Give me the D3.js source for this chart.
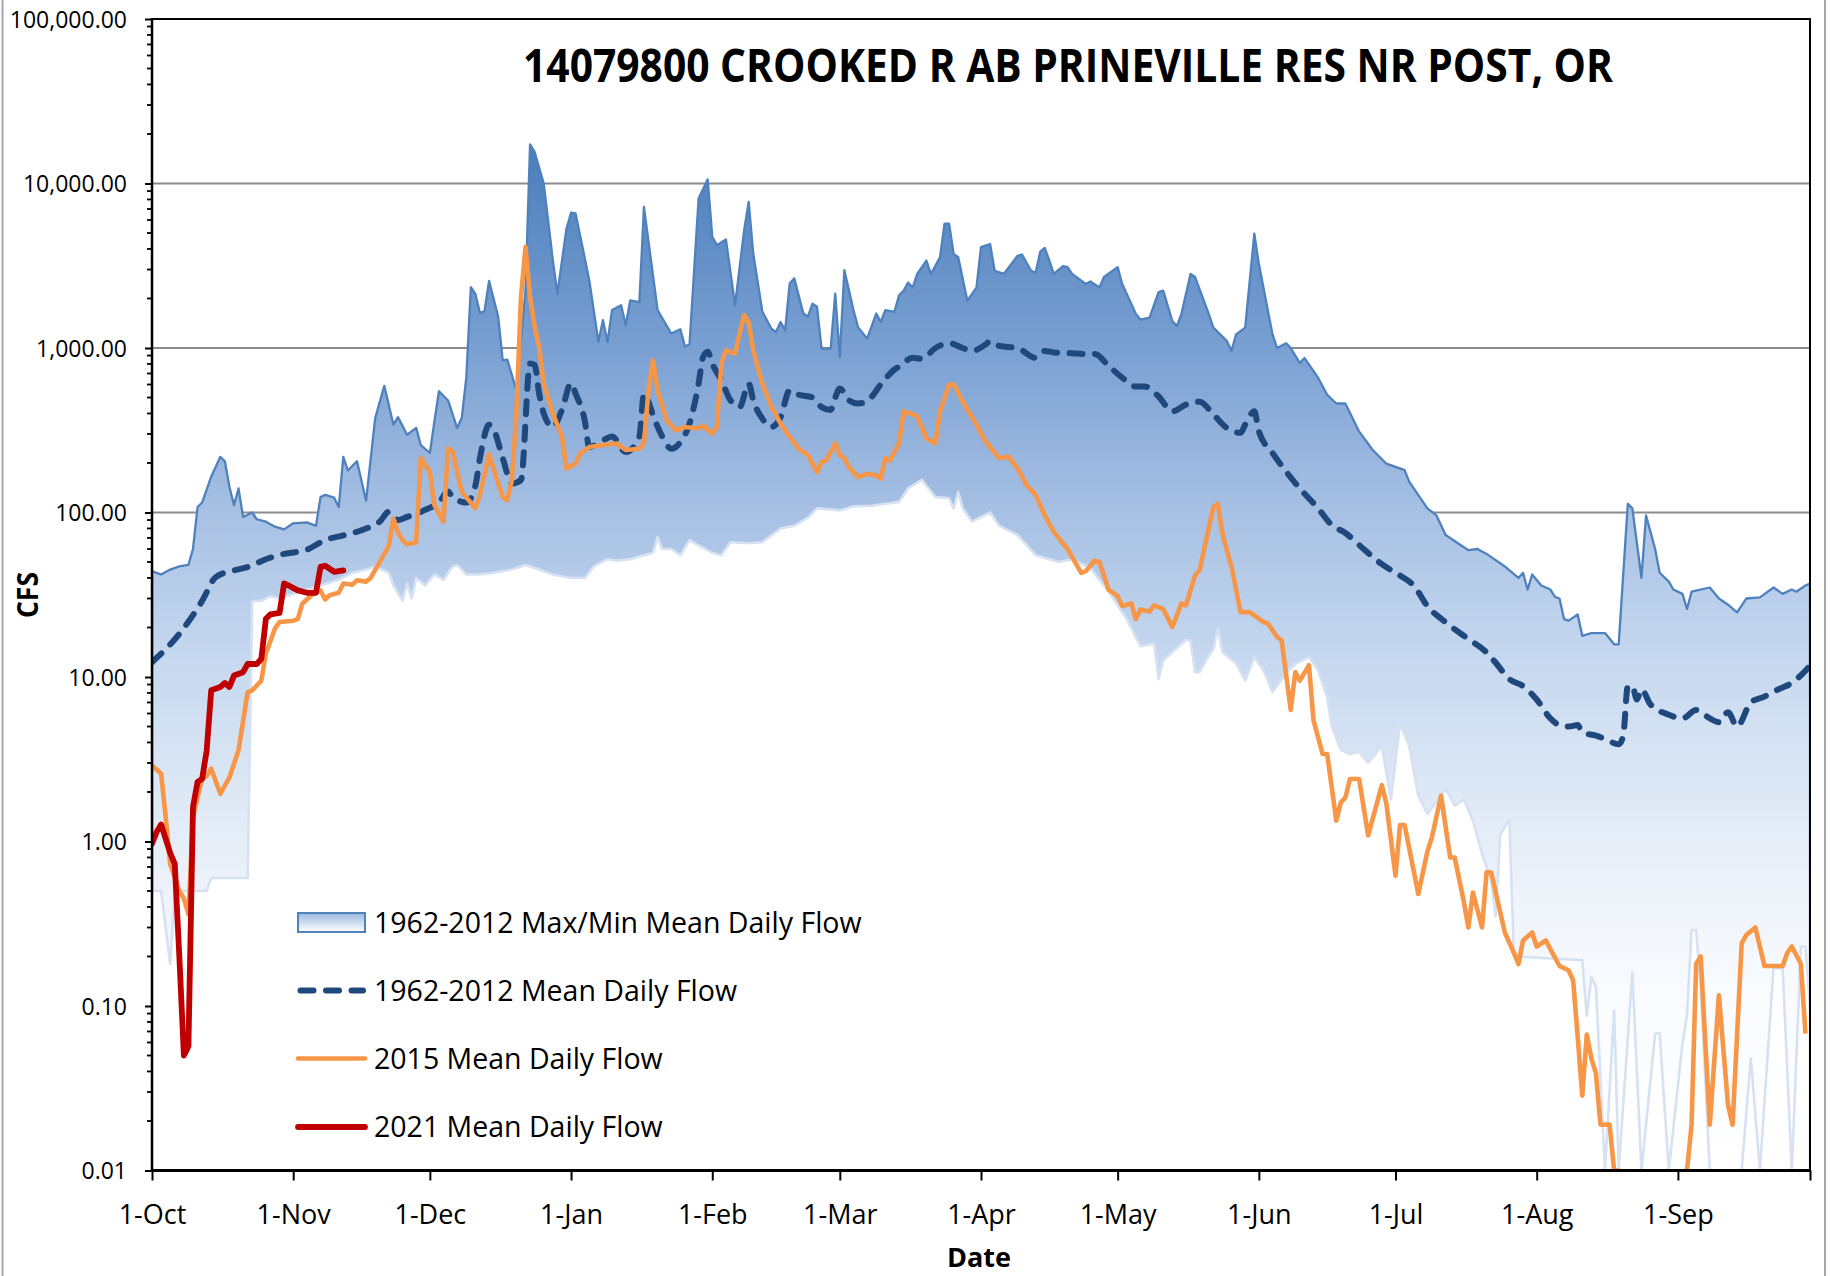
<!DOCTYPE html>
<html><head><meta charset="utf-8">
<script src="https://cdn.jsdelivr.net/npm/d3@7"></script>
<style>
html,body{margin:0;padding:0;background:#fff;}
svg{display:block;}
text{font-family:"Open Sans",sans-serif;fill:#000;}
</style></head><body>
<svg id="chart" width="1831" height="1276"></svg>
<script>
// ---------------- DATA ----------------
const chartTitle = "14079800 CROOKED R AB PRINEVILLE RES NR POST, OR";
const yAxisTitle = "CFS";
const xAxisTitle = "Date";
const yTickValues = [0.01, 0.1, 1, 10, 100, 1000, 10000, 100000];
const gridValues = [100, 1000, 10000];
const legendLabels = ["1962-2012 Max/Min Mean Daily Flow", "1962-2012 Mean Daily Flow", "2015 Mean Daily Flow", "2021 Mean Daily Flow"];
const waterYearStart = "2014-10-01";
const waterYearEnd = "2015-09-30";

// [day offset from 1-Oct, cfs]
const maxFlow = [[0,44],[1,43],[2,42],[4,45],[6,47],[8,48],[9,60],[10,108],[11,115],[13,165],[15,218],[16,205],[17,143],[18,111],[19,140],[20,94],[22,100],[23,91],[25,88],[27,82],[29,79],[31,86],[34,87],[36,83],[37,124],[38,128],[40,123],[41,108],[42,218],[43,180],[45,205],[47,118],[49,375],[51,589],[53,342],[54,380],[56,297],[58,327],[59,257],[61,230],[62,358],[63,546],[65,480],[67,326],[68,375],[69,659],[70,2340],[71,2130],[72,1630],[73,1680],[74,2560],[76,1550],[77,840],[78,850],[80,553],[81,1100],[82,2245],[83,17300],[84,15600],[86,10000],[88,3420],[89,2140],[91,5330],[92,6640],[93,6580],[96,2580],[98,1090],[99,1475],[100,1090],[101,1700],[103,1820],[104,1370],[105,1950],[107,1900],[108,7210],[111,1700],[114,1225],[116,1300],[117,1023],[118,1050],[120,8110],[122,10600],[123,4750],[124,4220],[126,4570],[128,1820],[130,5200],[131,7730],[132,3750],[134,1660],[136,1310],[137,1250],[138,1440],[139,1280],[140,2470],[141,2650],[143,1620],[144,1550],[145,1860],[146,1780],[147,990],[149,990],[150,2140],[151,883],[152,2970],[154,1700],[155,1340],[157,1140],[159,1620],[160,1440],[161,1700],[163,1660],[164,2090],[165,2230],[166,2500],[167,2330],[168,2820],[170,3400],[171,2820],[173,3560],[174,5700],[175,5700],[176,3730],[177,3560],[179,1940],[181,2330],[182,4100],[184,4290],[185,2950],[187,2820],[190,3630],[191,3700],[193,2950],[194,2870],[195,3850],[196,4060],[197,3400],[198,2820],[200,3150],[201,3100],[202,2820],[205,2450],[206,2540],[208,2330],[209,2700],[212,3100],[213,2450],[216,1610],[217,1490],[219,1530],[221,2190],[222,2230],[224,1460],[225,1360],[226,1610],[228,2820],[229,2700],[232,1610],[233,1330],[236,1100],[237,960],[238,1210],[240,1330],[242,4950],[243,3250],[245,1680],[246,1210],[247,1000],[249,1070],[250,1000],[252,810],[253,870],[256,660],[258,520],[260,460],[262,460],[265,311],[268,240],[271,198],[275,181],[276,154],[280,106],[282,96],[284,73],[289,59],[291,60],[293,56],[297,47],[300,40],[301,43],[302,34],[303,42],[305,36],[307,34],[308,30.7],[309,30],[310,22.5],[311,22],[313,24],[314,17.8],[316,18.5],[319,18.5],[321,15.8],[322,15.8],[324,113],[325,106],[327,40],[328,96],[330,60],[331,43],[333,38],[334,34],[336,32],[337,25.9],[338,33],[342,35],[344,30],[346,27.5],[348,24.7],[350,30],[353,30.5],[356,35],[358,32],[360,34],[361,33],[363,36],[364,37]];

const minFlow = [[0,0.5],[2,0.5],[4,0.18],[5,0.5],[12,0.5],[13,0.6],[21,0.6],[22,29],[24,29],[26,31],[28,30],[31,32],[34,34],[37,36],[41,39],[44,43],[47,45],[49,47],[52,43],[53,36],[55,29],[56,37],[57,30],[58,40],[60,36],[62,42],[64,39],[66,47],[67,48],[69,42],[72,42],[75,43],[79,45],[82,48],[85,45],[88,42],[92,40],[95,40],[97,47],[100,52],[102,51],[105,52],[107,54],[110,57],[111,71],[112,60],[114,60],[116,55],[118,68],[120,63],[123,57],[125,55],[127,66],[131,65],[134,66],[138,80],[141,83],[144,93],[146,106],[151,103],[154,109],[158,110],[164,116],[166,140],[169,158],[170,146],[172,124],[175,122],[176,106],[177,133],[178,106],[180,88],[184,100],[186,83],[190,73],[194,55],[199,50],[202,52],[206,46],[210,33],[214,22.5],[217,15.4],[220,16],[221,9.7],[222,12.6],[224,14.2],[227,16.8],[228,16.6],[229,10.7],[230,10.7],[232,13.5],[233,14.7],[234,19.7],[235,14.2],[238,12.1],[240,9.5],[242,13.2],[244,11],[246,8.1],[249,10.5],[251,12],[254,13.2],[256,11],[258,7.5],[259,5],[261,3.6],[263,3.4],[265,3.5],[267,3.0],[270,3.8],[272,1.8],[274,5.2],[276,3.8],[278,1.9],[280,1.47],[283,1.9],[284,2.1],[286,1.65],[288,1.8],[290,1.34],[292,0.84],[294,0.58],[295,0.35],[296,1.1],[298,1.35],[299,0.2],[314,0.19],[315,0.087],[316,0.15],[317,0.13],[319,0.01],[321,0.094],[322,0.01],[325,0.16],[327,0.01],[330,0.068],[331,0.068],[333,0.01],[336,0.059],[337,0.089],[338,0.29],[339,0.29],[340,0.13],[342,0.01],[349,0.01],[351,0.048],[353,0.01],[356,0.17],[358,0.17],[360,0.01],[362,0.23],[363,0.23],[364,0.1]];

const meanFlow = [[0,12.3],[6,18.3],[11,29],[14,40.5],[18,44.5],[21,46.6],[25,52],[29,56],[34,59.4],[38,68],[42,72.6],[46,78],[48,82],[50,88],[52,101],[54,90],[56,94],[58,98],[60,104],[63,115],[65,134],[66,124],[69,115],[71,146],[72,214],[74,342],[75,320],[77,214],[79,150],[81,157],[83,804],[84,790],[85,528],[86,400],[88,331],[90,420],[92,611],[93,528],[95,363],[96,250],[99,275],[101,290],[104,233],[107,290],[108,528],[109,470],[110,390],[112,290],[114,244],[116,268],[118,347],[120,607],[121,883],[122,950],[123,804],[125,637],[127,481],[129,437],[131,607],[132,481],[134,372],[136,331],[138,380],[140,553],[142,520],[145,500],[147,437],[149,420],[150,500],[151,568],[153,481],[155,460],[157,475],[160,600],[163,740],[164,770],[167,871],[169,860],[172,1000],[175,1070],[178,1000],[180,960],[183,1050],[184,1100],[186,1030],[190,1000],[194,871],[196,960],[198,940],[202,930],[205,920],[207,920],[210,780],[213,660],[216,583],[218,583],[221,507],[224,412],[227,453],[230,472],[233,395],[236,326],[239,305],[240,342],[242,412],[243,312],[246,230],[249,177],[252,140],[256,106],[259,84],[262,75],[266,60],[270,48.5],[274,41.4],[277,36],[280,27],[284,21.5],[289,17],[293,14.1],[295,12.2],[298,9.7],[301,8.8],[304,7.3],[307,5.6],[309,5.1],[311,5.0],[313,5.1],[314,4.6],[317,4.4],[319,4.2],[322,3.9],[323,4.4],[324,8.8],[325,8.8],[326,7.3],[327,8.4],[329,6.8],[333,5.9],[336,5.6],[339,6.3],[342,5.6],[344,5.3],[346,6.1],[348,5.0],[351,7.0],[354,7.6],[357,8.4],[360,9.2],[364,11.7]];

const flow2015 = [[0,2.9],[2,2.58],[3,1.41],[4,0.73],[6,0.5],[7,0.45],[8,0.36],[9,1.41],[11,2.41],[12,2.5],[13,2.77],[15,1.95],[17,2.45],[19,3.6],[21,8.1],[22,8.3],[24,9.5],[25,13.9],[27,19.7],[28,21.6],[31,22],[32,22.5],[33,27.9],[35,31.4],[37,33.6],[38,29.6],[39,31.4],[41,32.5],[42,37],[44,36.4],[45,38.7],[47,38],[48,40],[50,50],[52,63],[53,92],[54,76],[55,68],[56,64],[58,66],[59,214],[61,177],[62,111],[64,88],[65,245],[66,234],[68,134],[71,106],[72,128],[74,226],[76,150],[77,124],[78,119],[79,157],[80,400],[81,2030],[82,4120],[83,2040],[84,1350],[85,1010],[86,607],[88,400],[90,288],[91,185],[93,198],[94,228],[96,250],[99,257],[102,263],[104,240],[107,244],[108,263],[109,553],[110,841],[111,553],[113,363],[115,316],[117,331],[120,324],[121,337],[123,301],[124,331],[125,804],[126,968],[128,924],[129,1225],[130,1585],[131,1430],[132,968],[134,607],[136,438],[138,347],[140,288],[142,244],[144,223],[146,176],[147,203],[148,207],[150,263],[151,223],[152,214],[153,189],[155,164],[157,172],[159,168],[160,161],[161,214],[162,207],[163,233],[164,263],[165,412],[167,395],[168,384],[170,283],[172,263],[173,412],[175,600],[176,600],[178,472],[181,342],[183,270],[186,214],[188,219],[190,186],[192,147],[194,128],[196,96],[198,76],[201,60],[204,43],[205,44],[207,51],[208,50],[210,34],[212,31],[213,27],[215,28],[216,22.5],[217,25.7],[219,25],[220,27.3],[222,25.9],[224,20.1],[226,28],[227,27.3],[229,41.5],[230,44.6],[233,108],[234,113],[235,74.5],[237,46.7],[239,24.8],[241,24.8],[244,21.6],[245,21.1],[247,17.5],[248,16.7],[250,6.3],[251,10.7],[252,9.5],[254,11.8],[255,5.45],[257,3.4],[258,3.4],[260,1.34],[261,1.73],[262,1.85],[263,2.4],[265,2.4],[267,1.09],[270,2.2],[271,1.7],[273,0.62],[274,1.26],[275,1.26],[278,0.48],[280,0.87],[281,1.06],[283,1.9],[285,0.8],[286,0.8],[288,0.43],[289,0.3],[290,0.49],[292,0.3],[293,0.65],[294,0.65],[297,0.28],[299,0.21],[300,0.18],[301,0.25],[303,0.28],[304,0.23],[306,0.25],[309,0.175],[310,0.17],[311,0.165],[312,0.143],[313,0.065],[314,0.0285],[315,0.067],[316,0.048],[317,0.039],[318,0.019],[320,0.019],[321,0.01],[322,0.01],[323,0.001],[336,0.001],[337,0.01],[338,0.019],[339,0.18],[340,0.2],[342,0.019],[344,0.116],[346,0.025],[347,0.019],[349,0.24],[350,0.27],[352,0.3],[354,0.175],[358,0.175],[359,0.21],[360,0.23],[362,0.18],[363,0.068]];

const flow2021 = [[0,0.97],[1,1.14],[2,1.27],[4,0.85],[5,0.73],[6,0.2],[7,0.05],[8,0.057],[9,1.62],[10,2.3],[11,2.4],[12,3.57],[13,8.3],[15,8.7],[16,9.2],[17,8.7],[18,10.2],[20,10.7],[21,12],[23,12],[24,12.9],[25,22.6],[26,24],[28,24.5],[29,37],[30,36],[32,33.6],[34,32.5],[36,32.5],[37,46.7],[38,47.5],[39,45.5],[40,43.6],[42,44.5]];

// ---------------- LAYOUT / SCALES ----------------
const plot = {left:152, right:1810, top:19, bottom:1170.5};
const start = d3.utcParse("%Y-%m-%d")(waterYearStart);
const end = d3.utcParse("%Y-%m-%d")(waterYearEnd);
const toDate = d => d3.utcDay.offset(start, d);

const x = d3.scaleUtc().domain([start, end]).range([plot.left, plot.right]);
const y = d3.scaleLog().domain([0.01, 100000]).range([plot.bottom, plot.top]);

const svg = d3.select("#chart");
const defs = svg.append("defs");
defs.append("clipPath").attr("id","plotClip").append("rect")
  .attr("x", plot.left).attr("y", plot.top)
  .attr("width", plot.right - plot.left).attr("height", plot.bottom - plot.top);

const gTop = y(d3.max(maxFlow, d => d[1]));
const grad = defs.append("linearGradient").attr("id","areaGrad")
  .attr("gradientUnits","userSpaceOnUse").attr("x1",0).attr("x2",0)
  .attr("y1", gTop).attr("y2", plot.bottom);
[[0,"#4a7dbb"],[0.2,"#7aa0d2"],[0.35,"#a5bfe3"],[0.5,"#c6d8ef"],[0.63,"#dde8f5"],[0.72,"#edf2fa"],[0.83,"#f9fbfe"],[1,"#ffffff"]]
  .forEach(s => grad.append("stop").attr("offset", s[0]).attr("stop-color", s[1]));

const legGrad = defs.append("linearGradient").attr("id","legGrad").attr("x1",0).attr("x2",0).attr("y1",0).attr("y2",1);
[[0,"#9ab7df"],[1,"#ffffff"]].forEach(s => legGrad.append("stop").attr("offset", s[0]).attr("stop-color", s[1]));

// outer chart border
svg.append("line").attr("x1",2.5).attr("x2",2.5).attr("y1",0).attr("y2",1276).attr("stroke","#a6a6a6").attr("stroke-width",2);
svg.append("line").attr("x1",1825).attr("x2",1825).attr("y1",0).attr("y2",1276).attr("stroke","#a6a6a6").attr("stroke-width",2);

// gridlines
svg.append("g").selectAll("line").data(gridValues).join("line")
  .attr("x1", plot.left).attr("x2", plot.right)
  .attr("y1", d => y(d)).attr("y2", d => y(d))
  .attr("stroke", "#8c8c8c").attr("stroke-width", 2);

const gPlot = svg.append("g").attr("clip-path","url(#plotClip)");
const px = d => x(toDate(d[0]));
const py = d => y(d[1]);

function closedPts(arr) {
  const pts = arr.map(d => [px(d), py(d)]);
  return [[pts[0][0], plot.bottom], ...pts, [pts[pts.length-1][0], plot.bottom]];
}
const raw = d3.line();

// max area with gradient
gPlot.append("path").attr("d", raw(closedPts(maxFlow)) + "Z").attr("fill","url(#areaGrad)");
gPlot.append("path").attr("d", raw(closedPts(maxFlow))).attr("fill","none")
  .attr("stroke","#4f81bd").attr("stroke-width",2.3).attr("stroke-linejoin","round");
// min area (white) with pale outline
gPlot.append("path").attr("d", raw(closedPts(minFlow)) + "Z").attr("fill","#ffffff");
gPlot.append("path").attr("d", raw(closedPts(minFlow))).attr("fill","none")
  .attr("stroke","#d6e2f2").attr("stroke-width",2.6).attr("stroke-linejoin","round");

// mean dashed
gPlot.append("path").datum(meanFlow)
  .attr("d", d3.line().x(px).y(py).curve(d3.curveMonotoneX))
  .attr("fill","none").attr("stroke","#1f497d").attr("stroke-width",6)
  .attr("stroke-dasharray","13,12.5").attr("stroke-linecap","round");
// 2015
gPlot.append("path").datum(flow2015)
  .attr("d", d3.line().x(px).y(py))
  .attr("fill","none").attr("stroke","#f79646").attr("stroke-width",4.6).attr("stroke-linejoin","round");
// 2021
gPlot.append("path").datum(flow2021)
  .attr("d", d3.line().x(px).y(py))
  .attr("fill","none").attr("stroke","#c00000").attr("stroke-width",5.8).attr("stroke-linejoin","round").attr("stroke-linecap","round");

// ---------------- AXES ----------------
// plot border top/right
svg.append("line").attr("x1",plot.left).attr("x2",plot.right+1).attr("y1",plot.top).attr("y2",plot.top).attr("stroke","#000").attr("stroke-width",2);
svg.append("line").attr("x1",plot.right).attr("x2",plot.right).attr("y1",plot.top).attr("y2",plot.bottom).attr("stroke","#000").attr("stroke-width",2);

// y axis
const yAxisG = svg.append("g").attr("transform",`translate(${plot.left},0)`)
  .call(d3.axisLeft(y).tickValues(yTickValues).tickFormat(d3.format(",.2f")).tickSize(7).tickPadding(0));
yAxisG.select(".domain").remove();
yAxisG.selectAll(".tick line").attr("stroke","#000").attr("stroke-width",2);
yAxisG.selectAll(".tick text").attr("x",-25).attr("dy","0.36em")
  .attr("font-family","'Open Sans',sans-serif").attr("font-size",23).attr("fill","#000");
const minorTicks = [];
yTickValues.slice(0,-1).forEach(v => { for (let k = 2; k <= 9; k++) minorTicks.push(v * k); });
svg.append("g").selectAll("line").data(minorTicks).join("line")
  .attr("x1", plot.left - 5).attr("x2", plot.left)
  .attr("y1", d => y(d)).attr("y2", d => y(d))
  .attr("stroke","#000").attr("stroke-width",1.8);
svg.append("line").attr("x1",plot.left).attr("x2",plot.left).attr("y1",plot.top-1).attr("y2",plot.bottom+1.5)
  .attr("stroke","#000").attr("stroke-width",2.5);

// x axis
const monthTicks = d3.utcMonth.range(start, d3.utcDay.offset(end,1));
const xTicks = [...monthTicks, end];
const fmt = d3.utcFormat("%-d-%b");
const xAxisG = svg.append("g").attr("transform",`translate(0,${plot.bottom})`)
  .call(d3.axisBottom(x).tickValues(xTicks).tickFormat(d => +d === +end ? "" : fmt(d)).tickSize(10));
xAxisG.select(".domain").remove();
xAxisG.selectAll(".tick line").attr("stroke","#000").attr("stroke-width",2);
xAxisG.selectAll(".tick text").attr("y",53.5).attr("dy",0)
  .attr("font-family","'Open Sans',sans-serif").attr("font-size",27).attr("fill","#000");
svg.append("line").attr("x1",plot.left-1).attr("x2",plot.right+1).attr("y1",plot.bottom).attr("y2",plot.bottom)
  .attr("stroke","#000").attr("stroke-width",3);

// ---------------- TITLES ----------------
svg.append("text").attr("x",523).attr("y",82).attr("font-size",46).attr("font-weight","bold")
  .attr("textLength",1090).attr("lengthAdjust","spacingAndGlyphs").text(chartTitle);
svg.append("text").attr("transform","translate(38,595) rotate(-90)").attr("text-anchor","middle")
  .attr("font-size",28).attr("font-weight","bold").attr("textLength",46).attr("lengthAdjust","spacingAndGlyphs").text(yAxisTitle);
svg.append("text").attr("x",979).attr("y",1267).attr("text-anchor","middle")
  .attr("font-size",27).attr("font-weight","bold").attr("textLength",64).attr("lengthAdjust","spacingAndGlyphs").text(xAxisTitle);

// ---------------- LEGEND ----------------
const legRows = [922.5, 990.5, 1058.5, 1127];
const lg = svg.append("g");
lg.append("rect").attr("x",298).attr("y",legRows[0]-9.5).attr("width",67).attr("height",19)
  .attr("fill","url(#legGrad)").attr("stroke","#4f81bd").attr("stroke-width",2);
lg.append("line").attr("x1",300.5).attr("x2",363).attr("y1",legRows[1]).attr("y2",legRows[1])
  .attr("stroke","#1f497d").attr("stroke-width",6).attr("stroke-dasharray","13,12.5").attr("stroke-linecap","round");
lg.append("line").attr("x1",298).attr("x2",365).attr("y1",legRows[2]).attr("y2",legRows[2])
  .attr("stroke","#f79646").attr("stroke-width",4.6).attr("stroke-linecap","round");
lg.append("line").attr("x1",298).attr("x2",365).attr("y1",legRows[3]).attr("y2",legRows[3])
  .attr("stroke","#c00000").attr("stroke-width",5.8).attr("stroke-linecap","round");
lg.selectAll("text").data(legendLabels).join("text")
  .attr("x",374).attr("y",(d,i) => legRows[i] + 10.2)
  .attr("font-size",28.5).text(d => d);
</script>
</body></html>
